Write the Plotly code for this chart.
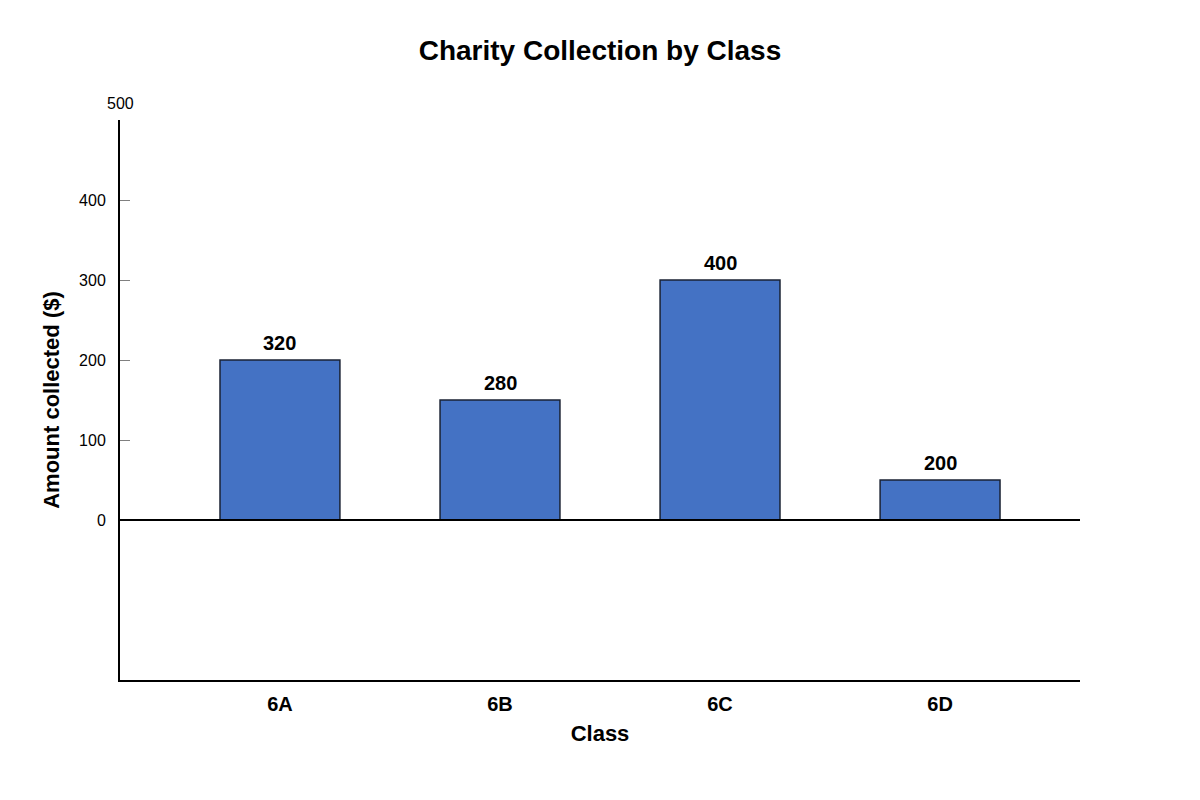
import plotly.graph_objects as go

classes = ['6A', '6B', '6C', '6D']
bar_heights = [200, 150, 300, 50]
bar_labels = ['320', '280', '400', '200']
y_ticks = [0, 100, 200, 300, 400]

font_name = 'Liberation Sans, Arial, sans-serif'

fig = go.Figure()
fig.add_trace(go.Bar(
    x=classes,
    y=bar_heights,
    marker=dict(color='#4472C4', line=dict(color='#1a2233', width=1.5)),
    width=0.545,
    cliponaxis=False,
))

# value labels sit above the bars (text differs from bar heights)
for c, h, lbl in zip(classes, bar_heights, bar_labels):
    fig.add_annotation(x=c, y=h, text=f'<b>{lbl}</b>', showarrow=False,
                       yanchor='bottom', yshift=4,
                       font=dict(size=20, color='black', family=font_name))

# page has an 8px body margin, so margins are shifted to compensate
fig.update_layout(
    width=1200, height=800,
    margin=dict(l=112, r=128, t=112, b=128),
    plot_bgcolor='white', paper_bgcolor='white',
    font=dict(family=font_name, color='black'),
    title=dict(text='<b>Charity Collection by Class</b>', x=0.4933, xanchor='center',
               y=0.9475, yanchor='middle', font=dict(size=28)),
    showlegend=False,
)
fig.update_xaxes(
    range=[-0.727, 3.636],
    showline=True, linecolor='black', linewidth=2, mirror=False,
    showgrid=False, ticks='',
    tickfont=dict(size=20, weight='bold'),
    ticklabelstandoff=5,
    title=dict(text='<b>Class</b>', font=dict(size=22), standoff=12),
)
fig.update_yaxes(
    range=[-200, 500],
    tickvals=y_ticks,
    showline=True, linecolor='black', linewidth=2,
    showgrid=False, zeroline=False,
    ticks='inside', ticklen=10, tickcolor='gray', tickwidth=1,
    tickfont=dict(size=16),
    ticklabelstandoff=9,
    title=dict(text='<b>Amount collected ($)</b>', font=dict(size=22), standoff=13),
)
# zero line drawn on top so it runs from the axis to the right edge
fig.add_hline(y=0, line=dict(color='black', width=2), layer='above')
fig.add_annotation(x=0, xref='paper', y=500, yref='y', text='500', showarrow=False,
                   xanchor='center', yanchor='bottom', yshift=6, font=dict(size=16))

fig.write_html('out.html')
